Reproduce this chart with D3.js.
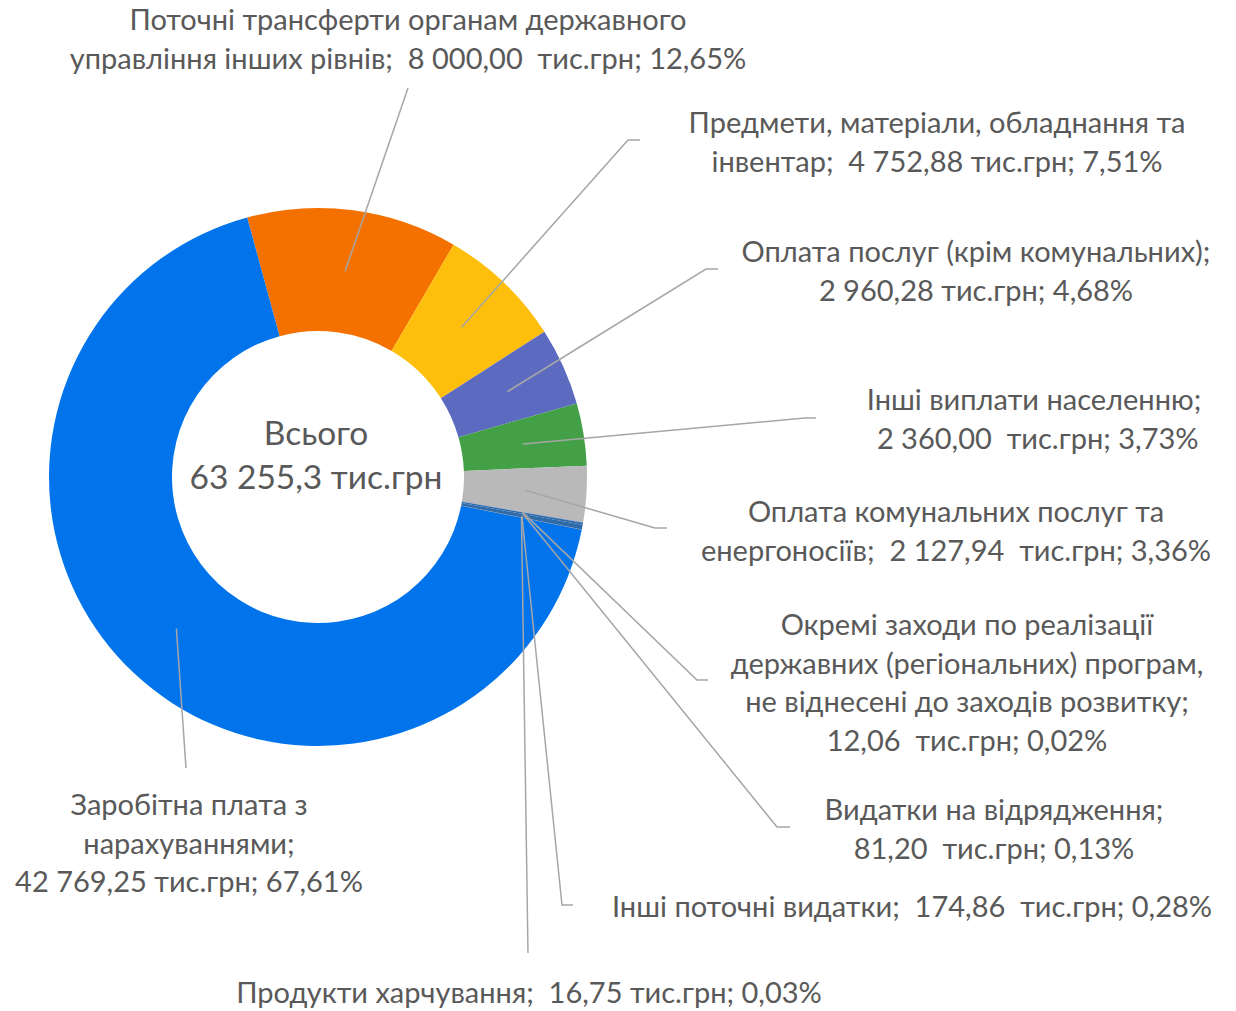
<!DOCTYPE html>
<html>
<head>
<meta charset="utf-8">
<script src="https://cdn.jsdelivr.net/npm/d3@7"></script>
<style>
  body { margin: 0; background: #fff; }
  text { font-family: Lato, "Open Sans", sans-serif; fill: #595959; white-space: pre; }
</style>
</head>
<body>
<div id="donut"></div>
<script>
// data (тис.грн)
var categories = [
  "Поточні трансферти органам державного управління інших рівнів",
  "Предмети, матеріали, обладнання та інвентар",
  "Оплата послуг (крім комунальних)",
  "Інші виплати населенню",
  "Оплата комунальних послуг та енергоносіїв",
  "Окремі заходи по реалізації державних (регіональних) програм, не віднесені до заходів розвитку",
  "Видатки на відрядження",
  "Інші поточні видатки",
  "Продукти харчування",
  "Заробітна плата з нарахуваннями"
];
var values = [8000.00, 4752.88, 2960.28, 2360.00, 2127.94, 12.06, 81.20, 174.86, 16.75, 42769.25];
var percents = ["12,65%", "7,51%", "4,68%", "3,73%", "3,36%", "0,02%", "0,13%", "0,28%", "0,03%", "67,61%"];
var labelLines = [
  ["Поточні трансферти органам державного", "управління інших рівнів;  8 000,00  тис.грн; 12,65%"],
  ["Предмети, матеріали, обладнання та", "інвентар;  4 752,88 тис.грн; 7,51%"],
  ["Оплата послуг (крім комунальних);", "2 960,28 тис.грн; 4,68%"],
  ["Інші виплати населенню;", " 2 360,00  тис.грн; 3,73%"],
  ["Оплата комунальних послуг та", "енергоносіїв;  2 127,94  тис.грн; 3,36%"],
  ["Окремі заходи по реалізації", "державних (регіональних) програм,", "не віднесені до заходів розвитку;", "12,06  тис.грн; 0,02%"],
  ["Видатки на відрядження;", "81,20  тис.грн; 0,13%"],
  ["Інші поточні видатки;  174,86  тис.грн; 0,28%"],
  ["Продукти харчування;  16,75 тис.грн; 0,03%"],
  ["Заробітна плата з", "нарахуваннями;", "42 769,25 тис.грн; 67,61%"]
];
var centerLines = ["Всього", "63 255,3 тис.грн"];
var colors = ["#F47100", "#FDBF0C", "#5C6BC0", "#43A047", "#B9B9B9", "#6B7FC4", "#2E6BA8", "#2E6BA8", "#C0561A", "#0174EC"];

// layout: label centre x, first line y, leader elbow, tail end
var labelPos = [
  {x: 408, y: 20, ex: 408, ey: 88, tx: 408},
  {x: 937, y: 123, ex: 628, ey: 140, tx: 640},
  {x: 976, y: 252, ex: 706, ey: 269, tx: 718},
  {x: 1034, y: 400, ex: 805, ey: 418, tx: 816},
  {x: 956, y: 512, ex: 655, ey: 528, tx: 667},
  {x: 967, y: 625, ex: 697, ey: 680, tx: 708},
  {x: 994, y: 810, ex: 777, ey: 827, tx: 790},
  {x: 912, y: 907, ex: 562, ey: 905, tx: 573},
  {x: 529, y: 993, ex: 528, ey: 953, tx: 528},
  {x: 189, y: 805, ex: 186, ey: 768, tx: 186}
];

var width = 1236, height = 1011;
var cx = 318, cy = 477, outerR = 269, innerR = 146;
var lineH = 38.5;

var svg = d3.select("#donut")
  .append("svg")
    .attr("width", width)
    .attr("height", height);

var g = svg.append("g")
    .attr("transform", "translate(" + cx + "," + cy + ")");

var start = -15.26 * Math.PI / 180;
var pie = d3.pie()
  .sort(null)
  .value(function(d) { return d; })
  .startAngle(start)
  .endAngle(start + 2 * Math.PI);

var arc = d3.arc()
  .innerRadius(innerR)
  .outerRadius(outerR);

var arcs = pie(values);

g.selectAll("path.slice")
  .data(arcs)
  .enter()
  .append("path")
    .attr("class", "slice")
    .attr("d", arc)
    .attr("fill", function(d, i) { return colors[i]; });

// leader lines
g.selectAll("polyline")
  .data(arcs)
  .enter()
  .append("polyline")
    .attr("points", function(d, i) {
      var c = arc.centroid(d), p = labelPos[i];
      return [c, [p.ex - cx, p.ey - cy], [p.tx - cx, p.ey - cy]].join(" ");
    })
    .attr("fill", "none")
    .attr("stroke", "#A6A6A6")
    .attr("stroke-width", 1.5);

// labels
var labels = svg.selectAll("text.lbl")
  .data(labelLines)
  .enter()
  .append("text")
    .attr("class", "lbl")
    .attr("text-anchor", "middle")
    .attr("font-size", 29);

labels.each(function(lines, i) {
  var p = labelPos[i];
  d3.select(this).selectAll("tspan")
    .data(lines)
    .enter()
    .append("tspan")
      .attr("x", p.x)
      .attr("y", function(d, j) { return p.y + j * lineH; })
      .attr("dy", "0.35em")
      .text(function(d) { return d; });
});

// centre text
svg.append("text")
  .attr("text-anchor", "middle")
  .attr("font-size", 33.5)
  .selectAll("tspan")
  .data(centerLines)
  .enter()
  .append("tspan")
    .attr("x", 316)
    .attr("y", function(d, j) { return 433 + j * 44; })
    .attr("dy", "0.35em")
    .text(function(d) { return d; });
</script>
</body>
</html>
